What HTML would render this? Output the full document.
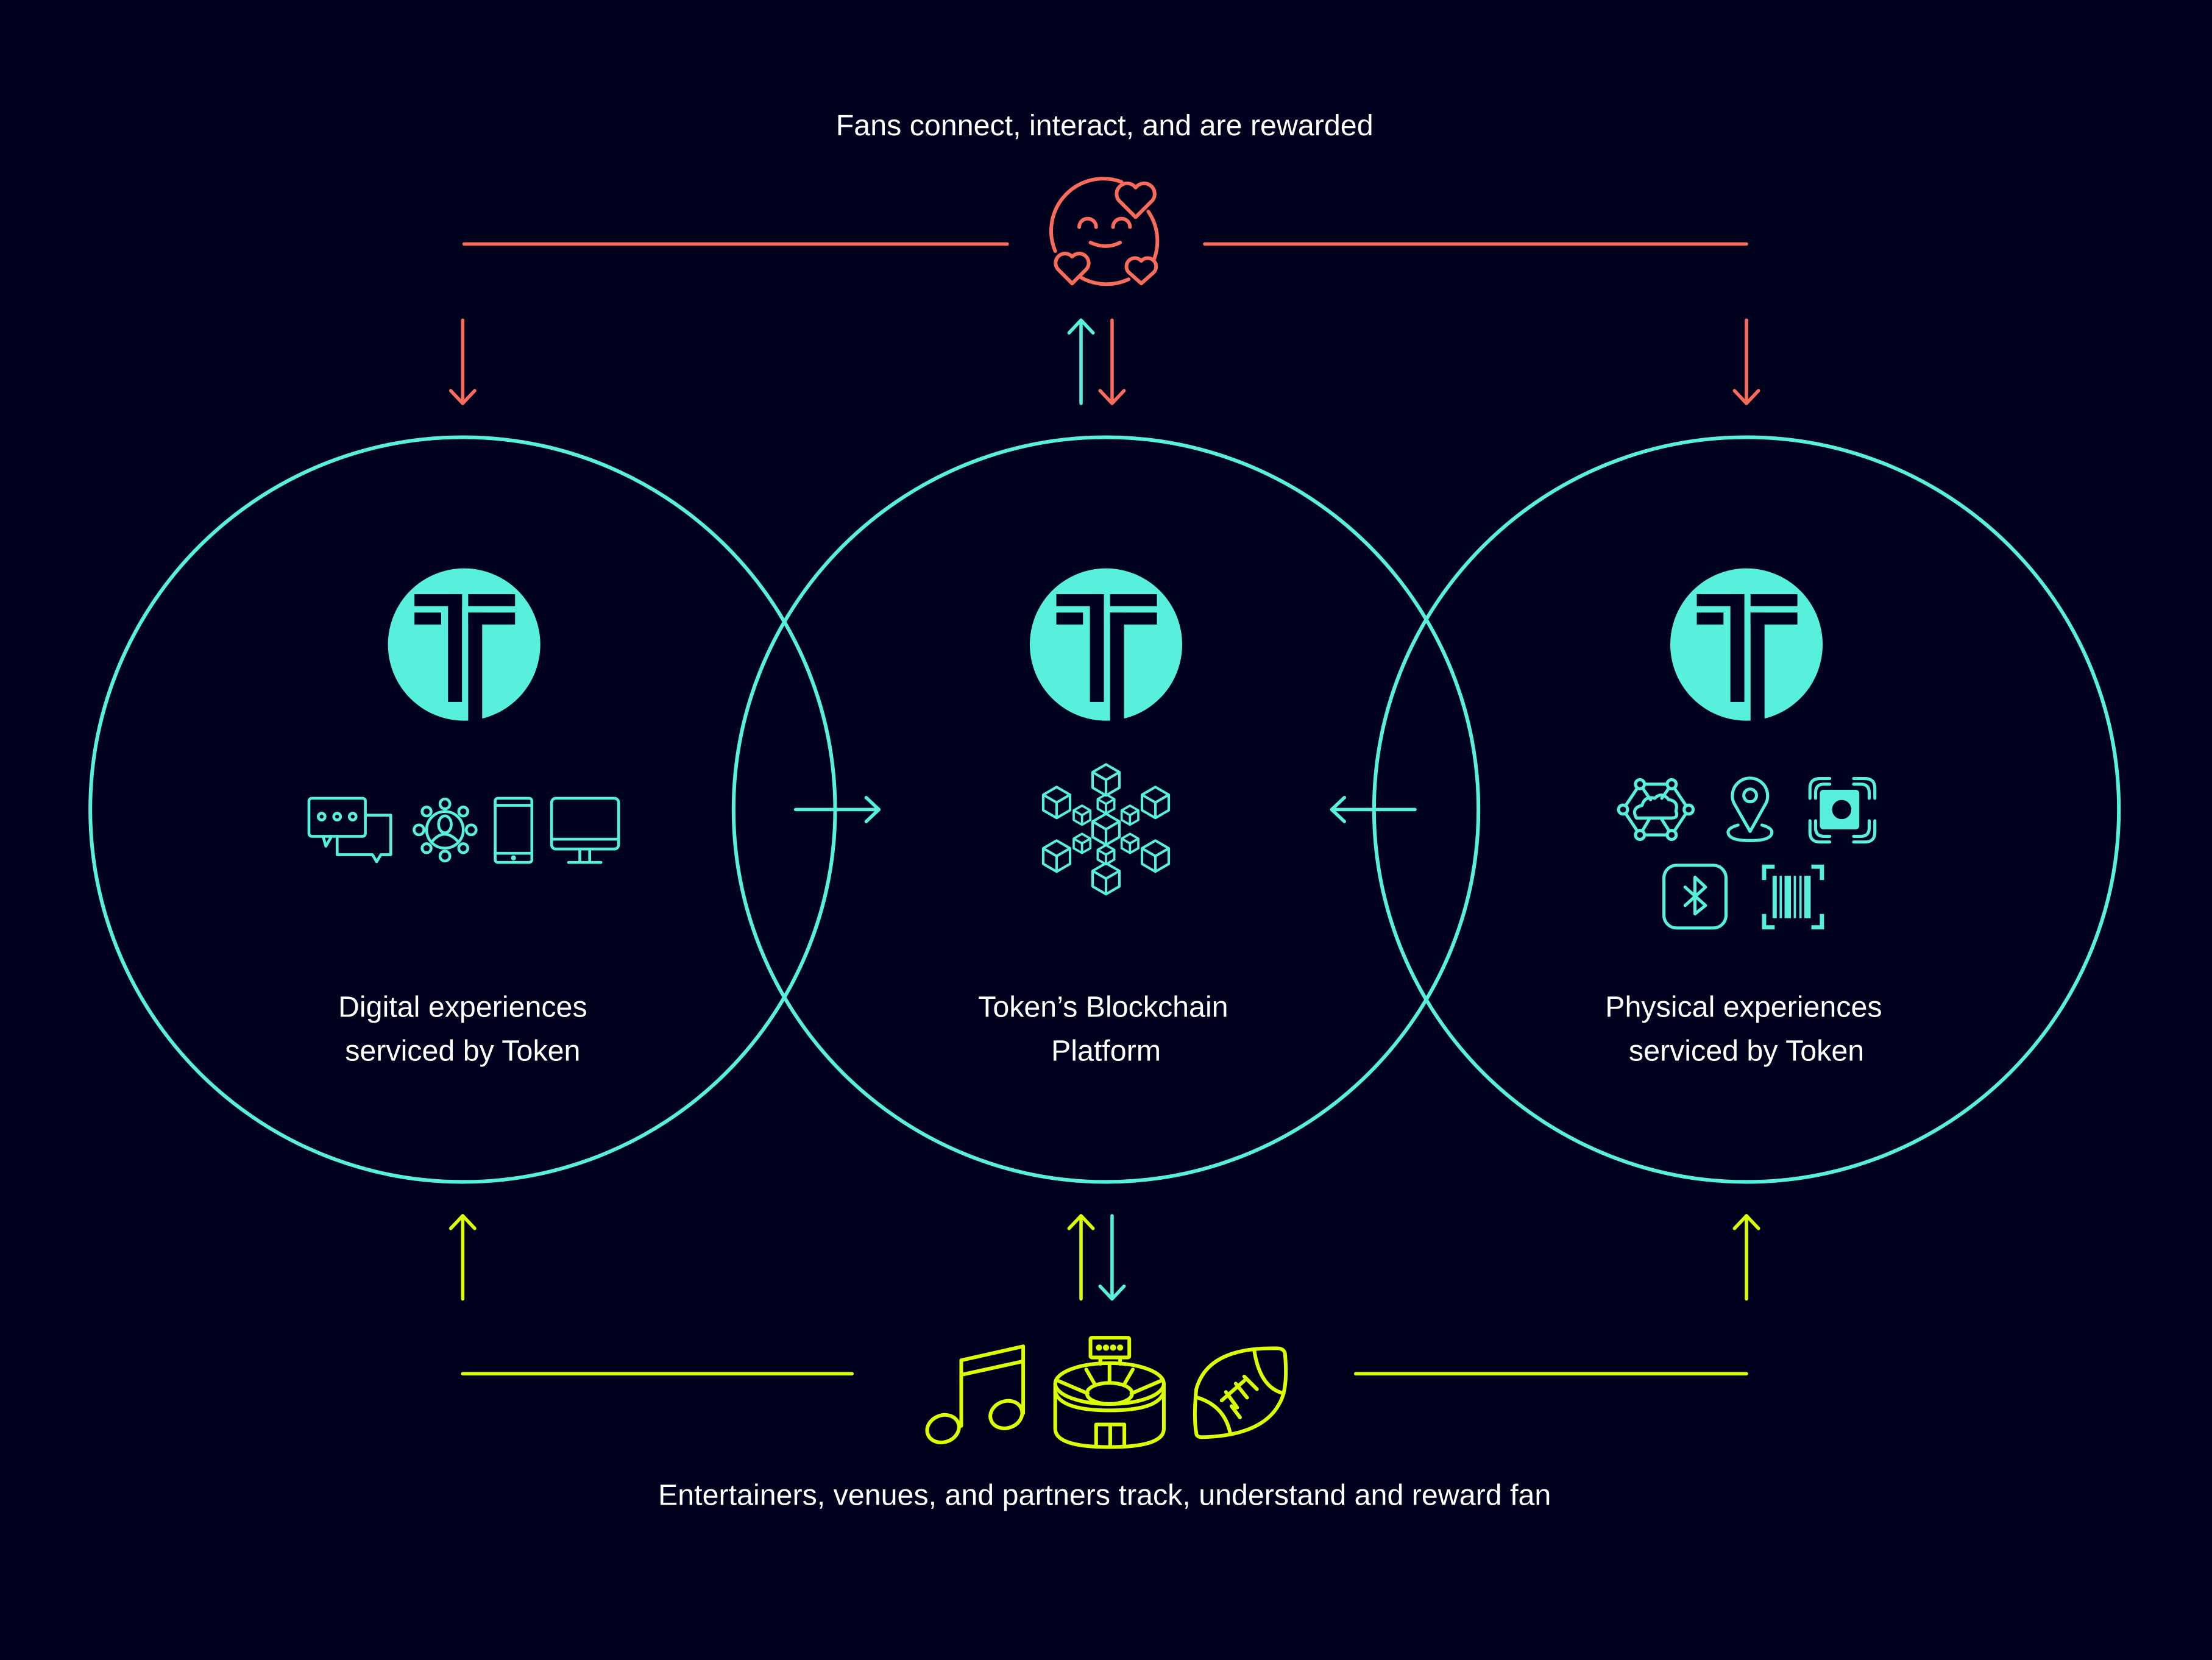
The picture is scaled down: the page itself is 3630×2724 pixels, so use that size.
<!DOCTYPE html>
<html><head><meta charset="utf-8"><style>
html,body{margin:0;padding:0;background:#00021e;}
svg{display:block;}
text{font-family:"Liberation Sans",Arial,sans-serif;fill:#ffffff;font-size:20.9px;text-anchor:middle;}
</style></head><body>
<svg width="3630" height="2724" viewBox="0 0 1568 1177" preserveAspectRatio="none" xmlns="http://www.w3.org/2000/svg">
<defs>
<g id="logo">
  <circle cx="0" cy="0" r="54" fill="#57f0dd"/>
  <g fill="#00021e">
    <rect x="-35.2" y="-35.7" width="33.7" height="8.5"/>
    <rect x="-11.4" y="-35.7" width="9.9" height="76.4"/>
    <rect x="-35.2" y="-22.7" width="18.9" height="8.5"/>
    <rect x="2.9" y="-35.7" width="33.2" height="8.5"/>
    <rect x="2.9" y="-22.7" width="33.2" height="8.5"/>
    <rect x="2.9" y="-22.7" width="9.9" height="80"/>
  </g>
</g>
<g id="cube">
  <path d="M0,-11 L9.5,-5.5 L9.5,5.5 L0,11 L-9.5,5.5 L-9.5,-5.5 Z M-9.5,-5.5 L0,0 L9.5,-5.5 M0,0 L0,11" fill="none" stroke="#57f0dd" stroke-width="1.8" stroke-linejoin="round"/>
</g>
<g id="scube">
  <path d="M0,-6.8 L5.9,-3.4 L5.9,3.4 L0,6.8 L-5.9,3.4 L-5.9,-3.4 Z M-5.9,-3.4 L0,0 L5.9,-3.4 M0,0 L0,6.8" fill="none" stroke="#57f0dd" stroke-width="1.6" stroke-linejoin="round"/>
</g>
</defs>

<rect width="1568" height="1177" fill="#00021e"/>

<g fill="none" stroke="#57f0dd" stroke-width="2.6">
  <circle cx="328" cy="574" r="264"/>
  <circle cx="784" cy="574" r="264"/>
  <circle cx="1238" cy="574" r="264"/>
</g>

<text x="783" y="96">Fans connect, interact, and are rewarded</text>
<g stroke="#fa6b5b" stroke-width="2.4" fill="none" stroke-linecap="round" stroke-linejoin="round">
  <line x1="329" y1="173" x2="714" y2="173"/>
  <line x1="854" y1="173" x2="1238" y2="173"/>
  <line x1="328" y1="227" x2="328" y2="286"/><path d="M319.5,277 L328,286 L336.5,277"/>
  <line x1="1238" y1="227" x2="1238" y2="286"/><path d="M1229.5,277 L1238,286 L1246.5,277"/>
  <line x1="788.3" y1="227" x2="788.3" y2="286"/><path d="M779.8,277 L788.3,286 L796.8,277"/>
</g>
<g stroke="#57f0dd" stroke-width="2.4" fill="none" stroke-linecap="round" stroke-linejoin="round">
  <line x1="766.3" y1="227" x2="766.3" y2="286"/><path d="M757.8,236 L766.3,227 L774.8,236"/>
  <line x1="564" y1="574" x2="623" y2="574"/><path d="M614,565.5 L623,574 L614,582.5"/>
  <line x1="944" y1="574" x2="1003" y2="574"/><path d="M953,565.5 L944,574 L953,582.5"/>
  <line x1="788.3" y1="862" x2="788.3" y2="921"/><path d="M779.8,912 L788.3,921 L796.8,912"/>
</g>

<g stroke="#fa6b5b" stroke-width="2.6" fill="none" stroke-linecap="round" stroke-linejoin="round">
  <path d="M795,129 A37,37 0 0 0 748,178"/>
  <path d="M765,196 A37,37 0 0 0 800,198"/>
  <path d="M814,150 A37,37 0 0 1 818,184"/>
  <path d="M765,161 A5,5 0 0 1 777,161"/>
  <path d="M789,161 A5,5 0 0 1 801,161"/>
  <path d="M773,172 Q784,177 794,172"/>
  <path d="M805,154 L793,142 A6,6 0 0 1 805,133 A6,6 0 0 1 817,142 Z"/>
  <path d="M760,201 L750,191 A5.5,5.5 0 0 1 760,182 A5.5,5.5 0 0 1 770,191 Z"/>
  <path d="M809,201 L800,193 A5,5 0 0 1 809,185 A5,5 0 0 1 818,193 Z"/>
</g>

<use href="#logo" transform="translate(329,457)"/>
<use href="#logo" transform="translate(784,457)"/>
<use href="#logo" transform="translate(1238,457)"/>

<g stroke="#57f0dd" stroke-width="2" fill="none" stroke-linecap="round" stroke-linejoin="round">
  <rect x="219" y="566" width="40" height="27" rx="2"/>
  <path d="M229,593 L231,600 L235,593"/>
  <circle cx="228" cy="579" r="2.4"/><circle cx="239" cy="579" r="2.4"/><circle cx="250" cy="579" r="2.4"/>
  <path d="M259,578 L277,578 L277,606 L270,606 L267,611 L264,606 L239,606 L239,593"/>
  <ellipse cx="315.4" cy="588.4" rx="13" ry="13"/>
  <ellipse cx="315.4" cy="584.5" rx="4.5" ry="6"/>
  <path d="M306,597 Q315,586 325,597"/>
  <circle cx="315.4" cy="570" r="3.5"/><circle cx="315.4" cy="607" r="3.5"/>
  <circle cx="297" cy="588.4" r="3.5"/><circle cx="334" cy="588.4" r="3.5"/>
  <circle cx="302.4" cy="575.4" r="3.2"/><circle cx="328.4" cy="575.4" r="3.2"/>
  <circle cx="302.4" cy="601.4" r="3.2"/><circle cx="328.4" cy="601.4" r="3.2"/>
  <rect x="351" y="566" width="26" height="45.5" rx="2"/>
  <line x1="351" y1="571" x2="377" y2="571"/><line x1="351" y1="605" x2="377" y2="605"/>
  <circle cx="364" cy="608.3" r="0.8" fill="#57f0dd"/>
  <rect x="391" y="566" width="47.5" height="36" rx="3"/>
  <line x1="391" y1="595" x2="438.5" y2="595"/>
  <path d="M411,602 L411,611 M418,602 L418,611 M403,611.5 L426,611.5"/>
</g>

<g>
  <use href="#cube" transform="translate(784,553)"/>
  <use href="#cube" transform="translate(749,569)"/>
  <use href="#cube" transform="translate(819,569)"/>
  <use href="#cube" transform="translate(784,588)"/>
  <use href="#cube" transform="translate(749,607)"/>
  <use href="#cube" transform="translate(819,607)"/>
  <use href="#cube" transform="translate(784,623)"/>
  <use href="#scube" transform="translate(767,578)"/>
  <use href="#scube" transform="translate(801,578)"/>
  <use href="#scube" transform="translate(767,598)"/>
  <use href="#scube" transform="translate(801,598)"/>
  <use href="#scube" transform="translate(784,570)"/>
  <use href="#scube" transform="translate(784,606)"/>
</g>

<g stroke="#57f0dd" stroke-width="2.2" fill="none" stroke-linecap="round" stroke-linejoin="round">
  <path d="M1162.5,556 L1185,556 L1197,574 L1185,592 L1162.5,592 L1150.5,574 Z"/>
  <path d="M1162.5,556 L1170,567 M1185,556 L1178,566 M1162.5,592 L1169,581 M1185,592 L1178,581"/>
  <path d="M1160,580 Q1156,573 1164,571 Q1166,564 1173,566 Q1178,561 1183,567 Q1190,568 1188,575 Q1190,580 1185,580 Z"/>
  <circle cx="1162.5" cy="556" r="3.2" fill="#00021e"/><circle cx="1185" cy="556" r="3.2" fill="#00021e"/>
  <circle cx="1150.5" cy="574" r="3.2" fill="#00021e"/><circle cx="1197" cy="574" r="3.2" fill="#00021e"/>
  <circle cx="1162.5" cy="592" r="3.2" fill="#00021e"/><circle cx="1185" cy="592" r="3.2" fill="#00021e"/>
  <path d="M1240.6,589.5 L1230,571 A12.5,12.5 0 1 1 1251,571 Z"/>
  <circle cx="1240.6" cy="564" r="4.5"/>
  <path d="M1232,585 Q1225,587 1225,590 Q1225,596 1240.6,596 Q1256,596 1256,590 Q1256,587 1249,585"/>
  <path d="M1283,566 L1283,559 Q1283,552 1290,552 L1297,552 M1314,552 L1322,552 Q1329,552 1329,559 L1329,566 M1283,582 L1283,590 Q1283,597 1290,597 L1297,597 M1314,597 L1322,597 Q1329,597 1329,590 L1329,582"/>
  <path d="M1287,566 L1287,562 Q1287,556 1293,556 L1297,556 M1314,556 L1319,556 Q1325,556 1325,562 L1325,566 M1287,582 L1287,587 Q1287,593 1293,593 L1297,593 M1314,593 L1319,593 Q1325,593 1325,587 L1325,582"/>
  <rect x="1179.5" y="613.5" width="44" height="44.5" rx="9"/>
  <path d="M1194.5,629 L1209,642 L1201.5,648 L1201.5,622 L1209,629 L1194.5,642"/>
</g>
<rect x="1292.5" y="571" width="28" height="28" rx="2.5" fill="#57f0dd" transform="translate(-2.5,-11)"/>
<circle cx="1305.5" cy="574" r="6.8" fill="#00021e"/>
<g fill="#57f0dd">
  <path d="M1249,613 L1258,613 L1258,616 L1252,616 L1252,624 L1249,624 Z"/>
  <path d="M1293,613 L1284,613 L1284,616 L1290,616 L1290,624 L1293,624 Z"/>
  <path d="M1249,659 L1258,659 L1258,656 L1252,656 L1252,648 L1249,648 Z"/>
  <path d="M1293,659 L1284,659 L1284,656 L1290,656 L1290,648 L1293,648 Z"/>
  <rect x="1256.5" y="621" width="3" height="30"/>
  <rect x="1261.5" y="621" width="1.6" height="30"/>
  <rect x="1265" y="621" width="4.5" height="30"/>
  <rect x="1271.5" y="621" width="1.6" height="30"/>
  <rect x="1275.5" y="621" width="1.6" height="30"/>
  <rect x="1279" y="621" width="4.5" height="30"/>
</g>

<text x="328" y="721">Digital experiences</text>
<text x="328" y="752">serviced by Token</text>
<text x="782" y="721">Token’s Blockchain</text>
<text x="784" y="752">Platform</text>
<text x="1236" y="721">Physical experiences</text>
<text x="1238" y="752">serviced by Token</text>

<g stroke="#dcff00" stroke-width="2.4" fill="none" stroke-linecap="round" stroke-linejoin="round">
  <line x1="328" y1="974" x2="604" y2="974"/>
  <line x1="961" y1="974" x2="1238" y2="974"/>
  <line x1="328" y1="862" x2="328" y2="921"/><path d="M319.5,871 L328,862 L336.5,871"/>
  <line x1="1238" y1="862" x2="1238" y2="921"/><path d="M1229.5,871 L1238,862 L1246.5,871"/>
  <line x1="766.3" y1="862" x2="766.3" y2="921"/><path d="M757.8,871 L766.3,862 L774.8,871"/>
</g>

<g stroke="#dcff00" stroke-width="2.6" fill="none" stroke-linecap="round" stroke-linejoin="round">
  <ellipse cx="668.5" cy="1013" rx="11.5" ry="9.5" transform="rotate(-20 668.5 1013)"/>
  <ellipse cx="713.3" cy="1003" rx="11.5" ry="9.5" transform="rotate(-20 713.3 1003)"/>
  <path d="M681.4,1011 L681.4,964.5 L725.3,954.6 L725.3,1002"/>
  <path d="M681.4,974.8 L725.3,965.2"/>
  <rect x="773" y="948.5" width="27.5" height="14" rx="1"/>
  <path d="M780,962.5 L780,967 M794,962.5 L794,967"/>
  <circle cx="779" cy="955.5" r="0.9" fill="#dcff00"/><circle cx="784" cy="955.5" r="0.9" fill="#dcff00"/>
  <circle cx="789" cy="955.5" r="0.9" fill="#dcff00"/><circle cx="794" cy="955.5" r="0.9" fill="#dcff00"/>
  <ellipse cx="786.5" cy="981" rx="38.5" ry="14.5"/>
  <path d="M748,981 L748,1013 Q748,1026 786.5,1026 Q825,1026 825,1013 L825,981"/>
  <path d="M748,987 Q752,1000 786.5,1000 Q821,1000 825,987"/>
  <ellipse cx="786.5" cy="988" rx="16" ry="7.5"/>
  <path d="M786.5,967 L786.5,980.5 M770,971 L775.5,980.5 M803,971 L797.5,980.5 M750,979 L771,988 M823,979 L802,988"/>
  <path d="M777,1025 L777,1010 L797,1010 L797,1025 M787,1010 L787,1025"/>
  <path d="M848,1016 Q846,1005 848,985 Q856,955 905,956 Q911,956 911,961 Q913,985 907,995 Q895,1018 852,1019 Q848,1019 848,1016 Z"/>
  <path d="M889,957 Q893,984 910,988"/>
  <path d="M849,991 Q868,997 872,1016"/>
  <path d="M866,993 L882,979 M873,997 L879,1005 M869,987 L877,998 M876,981 L884,991 M882,976 L891,985"/>
</g>

<text x="783" y="1067">Entertainers, venues, and partners track, understand and reward fan</text>
</svg>
</body></html>
